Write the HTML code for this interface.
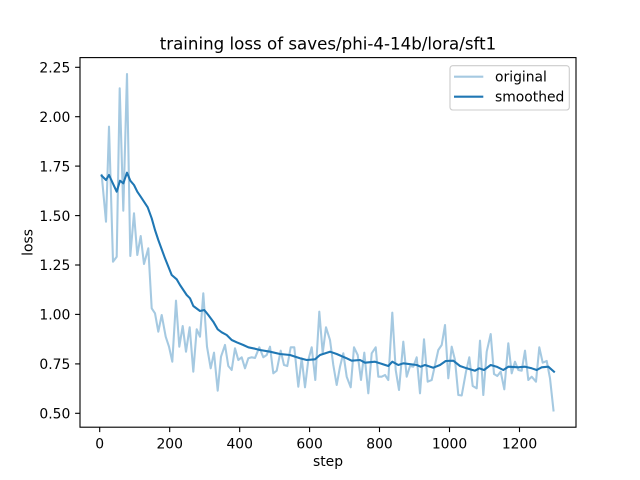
<!DOCTYPE html>
<html><head><meta charset="utf-8"><style>
html,body{margin:0;padding:0;background:#fff;}
svg{display:block;}
text{font-family:"DejaVu Sans","Liberation Sans",sans-serif;fill:#000;}
</style></head><body>
<svg width="640" height="480" viewBox="0 0 640 480" xmlns="http://www.w3.org/2000/svg">
<rect x="0" y="0" width="640" height="480" fill="#fff"/>
<text x="328" y="49.3" font-size="16.67" text-anchor="middle">training loss of saves/phi-4-14b/lora/sft1</text>
<polyline fill="none" stroke="#1f77b4" stroke-opacity="0.4" stroke-width="2.08" stroke-linejoin="round" stroke-linecap="square" points="101.7,175 106,221.7 109,126.7 113,261.7 116.7,256.7 119.7,88.3 123.3,210.7 127,74 130.3,256 134,213.3 137.3,255 140.7,236 144,264 148.3,248.3 151.7,308.3 155,313.3 158.3,331.7 161.7,315 165.7,336.7 169,346.7 172.3,361.7 176,300.7 179.3,346.7 182.7,326 186,351.7 189.7,327.3 193.3,371.7 196.7,329.3 200,336.7 203.3,293.3 207,346.7 210.7,368.3 214,352.7 217.7,390.7 221,356.7 225,345 228.3,366 231.7,370 235,348.3 238.3,360 241.7,357.3 245,368.3 248.3,358.3 251.7,357.3 255,358 259.3,347.3 263.3,357.3 266.7,355 270,346.7 273.3,373.3 276.7,370.7 280.7,350.7 284,365 287.3,366 290.7,347.3 294.3,347.3 298.3,386.7 301.7,358.3 305,387.3 308.3,360 311.7,347.3 315.3,380 319.3,311.7 322.7,353.3 326,327.3 330,340 333.3,365 336.7,385 340,366.7 343.3,353.3 346.7,376.7 350.7,387.3 354,347.3 357.7,355 361,380 364.3,352.7 368.3,393.3 371.7,353.3 375.7,347.3 378.3,376.7 381.7,376.7 385,375 388.3,380 392.3,312.7 395.7,370 399,390 403.3,341.7 406.7,376.7 410,366 413.3,366.7 416.7,357.3 420,393.3 424,339.3 427.7,381.7 431.7,380 435,365 438.3,350 441.7,345 445,325 448.3,378.3 451.7,346.7 455,360 458.3,395 461.7,395.5 466,371.7 469.3,357.3 472.7,386 476.7,388.3 480,340.7 483.3,395 486.7,351.7 490.7,334 494,374 497.3,376 500.7,371.7 504.3,389.3 508.3,343.3 511.7,373.3 515,361.7 518.3,370 521.7,370.7 525,350.7 528.3,380 531.7,376.7 536,381.7 539.3,347.3 542.7,362.7 546.7,361 550,378.3 553.5,410.5"/>
<polyline fill="none" stroke="#1f77b4" stroke-width="2.08" stroke-linejoin="round" stroke-linecap="square" points="101.7,175.7 106,180 109,175 116.7,191.7 120,180.7 123.3,183.3 127,172.7 130.3,180.7 134,185 137.3,191.7 140.7,196.7 144,201.7 147.7,207.3 151.7,218.3 155,230 158.3,240 165,258.3 171.7,275 176.7,279.3 180,285 186.7,295 190,298.3 193.3,306 200,311 204.3,310 208.3,315 213.3,321.7 217.7,329.3 221.7,332.3 226.7,335 231.7,340 236.7,342.3 243.3,345 248.3,347.3 255,348.7 260,350 270,351.7 280,354 290,355 300,358.3 306.7,360 315,359.3 320,355 330,351.7 336.7,354 346.7,358.3 351.7,360.7 360,360 365,362.7 375,361.7 388.3,366 392.3,361.7 398.3,365 403.3,363.3 416.7,365 420.7,366.7 425,365 433.3,367.7 440,365 445.7,361 453.3,360.7 460,366 466.7,368.3 475,370.7 479.3,368.3 484,370 490.7,365 496.7,366.7 503.3,370 508.3,366.7 518.3,367.3 525,366.7 531.7,368.3 536.7,370 541.7,367.3 548.3,366.7 554,371.7"/>
<rect x="80" y="57.6" width="496" height="369.6" fill="none" stroke="#000" stroke-width="1.11"/>
<g stroke="#000" stroke-width="1.11">
<line x1="99.7" y1="427.2" x2="99.7" y2="432.1"/>
<line x1="169.7" y1="427.2" x2="169.7" y2="432.1"/>
<line x1="239.7" y1="427.2" x2="239.7" y2="432.1"/>
<line x1="309.6" y1="427.2" x2="309.6" y2="432.1"/>
<line x1="379.5" y1="427.2" x2="379.5" y2="432.1"/>
<line x1="449.5" y1="427.2" x2="449.5" y2="432.1"/>
<line x1="519.5" y1="427.2" x2="519.5" y2="432.1"/>
<line x1="80" y1="413.3" x2="75.1" y2="413.3"/>
<line x1="80" y1="363.9" x2="75.1" y2="363.9"/>
<line x1="80" y1="314.4" x2="75.1" y2="314.4"/>
<line x1="80" y1="265" x2="75.1" y2="265"/>
<line x1="80" y1="215.6" x2="75.1" y2="215.6"/>
<line x1="80" y1="166.1" x2="75.1" y2="166.1"/>
<line x1="80" y1="116.7" x2="75.1" y2="116.7"/>
<line x1="80" y1="67.3" x2="75.1" y2="67.3"/>
</g>
<g font-size="13.9" text-anchor="middle">
<text x="99.7" y="448.3">0</text>
<text x="169.7" y="448.3">200</text>
<text x="239.7" y="448.3">400</text>
<text x="309.6" y="448.3">600</text>
<text x="379.5" y="448.3">800</text>
<text x="449.5" y="448.3">1000</text>
<text x="519.5" y="448.3">1200</text>
<text x="328" y="466">step</text>
</g>
<g font-size="13.9" text-anchor="end">
<text x="70.3" y="418.5">0.50</text>
<text x="70.3" y="369.1">0.75</text>
<text x="70.3" y="319.6">1.00</text>
<text x="70.3" y="270.2">1.25</text>
<text x="70.3" y="220.8">1.50</text>
<text x="70.3" y="171.3">1.75</text>
<text x="70.3" y="121.9">2.00</text>
<text x="70.3" y="72.5">2.25</text>
</g>
<text transform="translate(32.5,242.4) rotate(-90)" font-size="13.9" text-anchor="middle">loss</text>
<rect x="450" y="65.7" width="119.3" height="44.3" rx="2.8" ry="2.8" fill="#fff" fill-opacity="0.8" stroke="#cccccc" stroke-width="1.11"/>
<line x1="454" y1="76.7" x2="483.3" y2="76.7" stroke="#1f77b4" stroke-opacity="0.4" stroke-width="2.08"/>
<line x1="454" y1="96.7" x2="483.3" y2="96.7" stroke="#1f77b4" stroke-width="2.08"/>
<text x="495" y="81.7" font-size="13.9">original</text>
<text x="495" y="101.7" font-size="13.9">smoothed</text>
</svg>
</body></html>
